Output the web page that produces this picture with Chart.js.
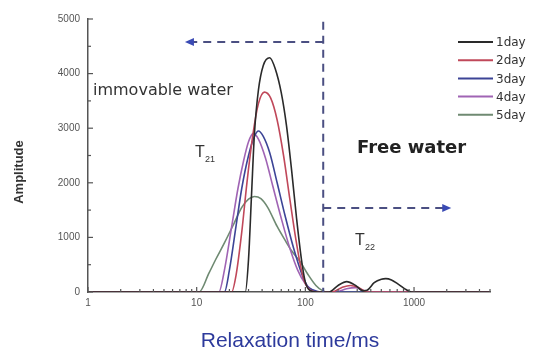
<!DOCTYPE html>
<html>
<head>
<meta charset="utf-8">
<script src="https://cdn.jsdelivr.net/npm/chart.js@4/dist/chart.umd.min.js"></script>
<style>
  html, body { margin: 0; padding: 0; background: #fff; }
  #wrap { width: 535px; height: 350px; position: relative; }
</style>
</head>
<body>
<div id="wrap"><canvas id="chart"></canvas></div>
<script>
// relaxation time (ms), amplitude pairs
const day1 = [[1,0],[28,0],[30,600],[32,1800],[34,2900],[37,3700],[41,4150],[47,4290],[53,4080],[60,3650],[67,3050],[75,2200],[83,1350],[92,600],[100,180],[110,30],[130,0],[165,0],[200,120],[240,190],[290,120],[340,20],[370,30],[430,170],[500,235],[550,245],[620,220],[720,140],[850,40],[950,0],[5000,0]];
const day2 = [[1,0],[21,0],[23,300],[26,1100],[29,2000],[33,2900],[37,3450],[42,3660],[48,3550],[55,3150],[63,2500],[72,1700],[82,950],[92,400],[100,150],[110,40],[130,0],[175,0],[215,80],[260,120],[310,80],[370,0],[5000,0]];
const day3 = [[1,0],[18,0],[20,400],[23,1200],[26,1900],[30,2500],[34,2850],[37,2950],[41,2850],[47,2550],[55,2000],[65,1400],[78,800],[92,350],[105,100],[120,30],[140,0],[5000,0]];
const day4 = [[1,0],[16,0],[18,400],[21,1200],[24,1900],[27,2400],[30,2750],[33,2900],[37,2800],[43,2450],[50,1950],[60,1350],[72,800],[85,400],[100,150],[115,40],[130,0],[190,0],[240,60],[290,80],[340,30],[380,0],[5000,0]];
const day5 = [[1,0],[10.5,0],[13,350],[15,600],[18,900],[22,1250],[26,1550],[30,1700],[34,1750],[39,1710],[45,1550],[55,1200],[65,950],[75,750],[90,550],[105,330],[125,120],[145,20],[160,0],[5000,0]];

const seriesNames = ['1day', '2day', '3day', '4day', '5day'];
const seriesData = [day1, day2, day3, day4, day5];
const seriesColors = ['#2a2a2a', '#c0485a', '#3c4496', '#a064b4', '#6f8a72'];

const yTicks = [0, 1000, 2000, 3000, 4000, 5000];
const xTicks = [1, 10, 100, 1000];

// boundary between bound and free water (ms)
const cutoffT = 146;

function xMinorTicks() {
    const out = [];
    for (let d = 1; d <= 1000; d *= 10) {
        for (let k = 1; k < 10; k++) {
            if (d * k <= 5000) out.push(d * k);
        }
    }
    return out;
}

function arrowHead(ctx, x, y, dir) {
    ctx.beginPath();
    ctx.moveTo(x, y);
    ctx.lineTo(x - dir * 9, y - 4);
    ctx.lineTo(x - dir * 9, y + 4);
    ctx.closePath();
    ctx.fill();
}

const decorPlugin = {
    id: 'decor',
    afterDraw(chart) {
        const ctx = chart.ctx;
        const xs = chart.scales.x;
        const ys = chart.scales.y;
        const area = chart.chartArea;
        ctx.save();

        // inward tick marks
        ctx.strokeStyle = '#555';
        ctx.lineWidth = 1.2;
        for (let v = 0; v <= 5000; v += 500) {
            const py = ys.getPixelForValue(v);
            ctx.beginPath();
            ctx.moveTo(area.left, py);
            ctx.lineTo(area.left + (v % 1000 === 0 ? 5 : 3), py);
            ctx.stroke();
        }
        xMinorTicks().forEach(v => {
            const px = xs.getPixelForValue(v);
            ctx.beginPath();
            ctx.moveTo(px, area.bottom);
            ctx.lineTo(px, area.bottom - (xTicks.includes(v) ? 5 : 3));
            ctx.stroke();
        });

        // dashed boundary lines
        const cx = xs.getPixelForValue(cutoffT);
        ctx.strokeStyle = '#4b4f82';
        ctx.lineWidth = 2;
        ctx.setLineDash([8, 6]);
        ctx.beginPath();
        ctx.moveTo(cx, ys.getPixelForValue(4950));
        ctx.lineTo(cx, area.bottom);
        ctx.stroke();

        const yUp = ys.getPixelForValue(4580);
        const xLeft = xs.getPixelForValue(7.8);
        ctx.beginPath();
        ctx.moveTo(cx, yUp);
        ctx.lineTo(xLeft + 8, yUp);
        ctx.stroke();

        const yLow = ys.getPixelForValue(1540);
        const xRight = xs.getPixelForValue(2200);
        ctx.beginPath();
        ctx.moveTo(cx, yLow);
        ctx.lineTo(xRight - 8, yLow);
        ctx.stroke();
        ctx.setLineDash([]);

        ctx.fillStyle = '#3a4ab4';
        arrowHead(ctx, xLeft, yUp, -1);
        arrowHead(ctx, xRight, yLow, 1);

        // region labels
        ctx.fillStyle = '#333';
        ctx.textBaseline = 'alphabetic';
        ctx.textAlign = 'left';
        ctx.font = '16px "DejaVu Sans"';
        ctx.fillText('immovable water', 93, 95);

        ctx.font = 'bold 18px "DejaVu Sans"';
        ctx.fillStyle = '#222';
        ctx.fillText('Free water', 357, 153);

        ctx.fillStyle = '#333';
        ctx.font = '16px "Liberation Sans"';
        ctx.fillText('T', 195, 157);
        ctx.font = '9px "Liberation Sans"';
        ctx.fillText('21', 205, 162);
        ctx.font = '16px "Liberation Sans"';
        ctx.fillText('T', 355, 245);
        ctx.font = '9px "Liberation Sans"';
        ctx.fillText('22', 365, 250);

        // legend
        ctx.font = '12px "DejaVu Sans"';
        ctx.textBaseline = 'middle';
        seriesNames.forEach((name, i) => {
            const ly = 42 + i * 18.2;
            ctx.strokeStyle = seriesColors[i];
            ctx.lineWidth = 2;
            ctx.beginPath();
            ctx.moveTo(458, ly);
            ctx.lineTo(493, ly);
            ctx.stroke();
            ctx.fillStyle = '#333';
            ctx.fillText(name, 496, ly + 1);
        });

        // axis titles
        ctx.save();
        ctx.translate(19, 172);
        ctx.rotate(-Math.PI / 2);
        ctx.textAlign = 'center';
        ctx.font = 'bold 13px "Liberation Sans"';
        ctx.fillStyle = '#333';
        ctx.fillText('Amplitude', 0, 0);
        ctx.restore();

        ctx.textAlign = 'center';
        ctx.textBaseline = 'alphabetic';
        ctx.font = '21px "Liberation Sans"';
        ctx.fillStyle = '#2d3a9c';
        ctx.fillText('Relaxation time/ms', 290, 347);

        ctx.restore();
    }
};

window.onload = () => {
    const datasets = seriesData.map((pts, i) => ({
        label: seriesNames[i],
        data: pts.map(p => ({ x: p[0], y: p[1] })),
        borderColor: seriesColors[i],
        borderWidth: 1.6,
        pointRadius: 0,
        cubicInterpolationMode: 'monotone',
        fill: false
    }));

    new Chart(document.getElementById('chart'), {
        type: 'line',
        data: { datasets: datasets },
        options: {
            responsive: true,
            maintainAspectRatio: false,
            animation: false,
            layout: { padding: { top: 19, right: 45, bottom: 0, left: 0 } },
            plugins: { legend: { display: false }, tooltip: { enabled: false } },
            scales: {
                x: {
                    type: 'logarithmic',
                    min: 1,
                    max: 5000,
                    grid: { display: false, drawTicks: false },
                    border: { display: true, color: '#555', width: 1.5 },
                    afterBuildTicks: s => { s.ticks = xMinorTicks().map(v => ({ value: v })); },
                    afterFit: s => { s.height = 58; },
                    ticks: {
                        autoSkip: false,
                        maxRotation: 0,
                        padding: 5,
                        color: '#555',
                        font: { family: 'Liberation Sans', size: 10 },
                        callback: v => xTicks.includes(v) ? String(v) : ''
                    }
                },
                y: {
                    min: 0,
                    max: 5000,
                    grid: { display: false, drawTicks: false },
                    border: { display: true, color: '#555', width: 1.5 },
                    afterBuildTicks: s => { s.ticks = yTicks.map(v => ({ value: v })); },
                    afterFit: s => { s.width = 88; },
                    ticks: {
                        padding: 8,
                        color: '#555',
                        font: { family: 'Liberation Sans', size: 10 },
                        callback: v => String(v)
                    }
                }
            }
        },
        plugins: [decorPlugin]
    });
};
</script>
</body>
</html>
